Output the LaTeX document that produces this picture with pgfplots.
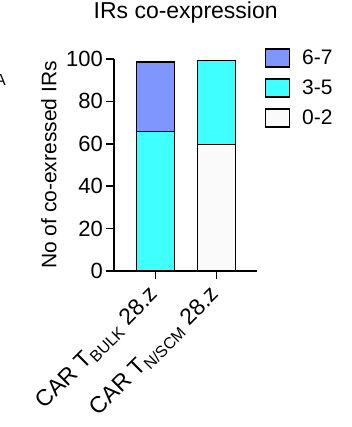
\documentclass[border=0pt]{standalone}
\usepackage{pgfplots}
\pgfplotsset{compat=1.18}
\usepackage{fontspec}
\setmainfont{Liberation Sans}
\definecolor{cHigh}{HTML}{7F96FF}
\definecolor{cMid}{HTML}{40FFFF}
\definecolor{cLow}{HTML}{FAFAFA}
\newcommand{\fs}[1]{\fontsize{#1}{#1}\selectfont}
\begin{document}
\begin{tikzpicture}
\begin{axis}[
  name=main,
  scale only axis, width=141pt, height=212pt,
  xmin=-0.68, xmax=1.67, ymin=0, ymax=100,
  ybar stacked, bar width=38pt,
  axis x line*=bottom, axis y line*=left,
  axis line style={line width=1.5pt, -},
  every tick/.style={black, line width=1.5pt},
  tick align=outside, major tick length=8pt,
  xtick={0,1}, ytick={0,20,40,60,80,100},
  xticklabels={CAR T\textsubscript{\fs{16}BULK} 28.z, CAR T\textsubscript{\fs{16}N/SCM} 28.z},
  xticklabel style={xshift=-8pt, yshift=-5pt, rotate=45, anchor=north east, font=\fs{23}, inner sep=0pt},
  yticklabel style={font=\fs{22}, inner sep=0pt, xshift=-3pt},
  /pgf/number format/assume math mode=true,
  title={IRs co-expression},
  title style={font=\fs{23}, at={(axis description cs:0.5,1.165)}, anchor=base},
  ylabel={No of co-exressed IRs},
  ylabel style={font=\fs{21}, at={(axis description cs:-0.532,0.5)}, anchor=north},
  legend style={at={(axis description cs:1.05,1.052)}, anchor=north west, draw=none, fill=none,
    inner xsep=0pt, inner ysep=0pt, font=\fs{21}, nodes={inner sep=0pt}, column sep=12pt, row sep=10.5pt},
  legend cell align=left,
  reverse legend,
  legend image code/.code={\draw[#1, line width=1.5pt] (0pt,-9pt) rectangle (24pt,9pt);},
  clip=false,
]
\addplot[fill=cLow, draw=black, line width=1.5pt] coordinates {(0,0) (1,59.6)};
\addplot[fill=cMid, draw=black, line width=1.5pt] coordinates {(0,65.7) (1,39.7)};
\addplot[fill=cHigh, draw=black, line width=1.5pt] coordinates {(0,33) (1,0)};
\legend{0-2,3-5,6-7}
\end{axis}
\node[anchor=east, font=\fs{16}, inner sep=0pt] at ([shift={(-108pt,191pt)}]main.south west) {A};
\pgfresetboundingbox
\useasboundingbox ([shift={(-114pt,-156pt)}]main.south west) rectangle ++(352pt,427pt);
\end{tikzpicture}
\end{document}
